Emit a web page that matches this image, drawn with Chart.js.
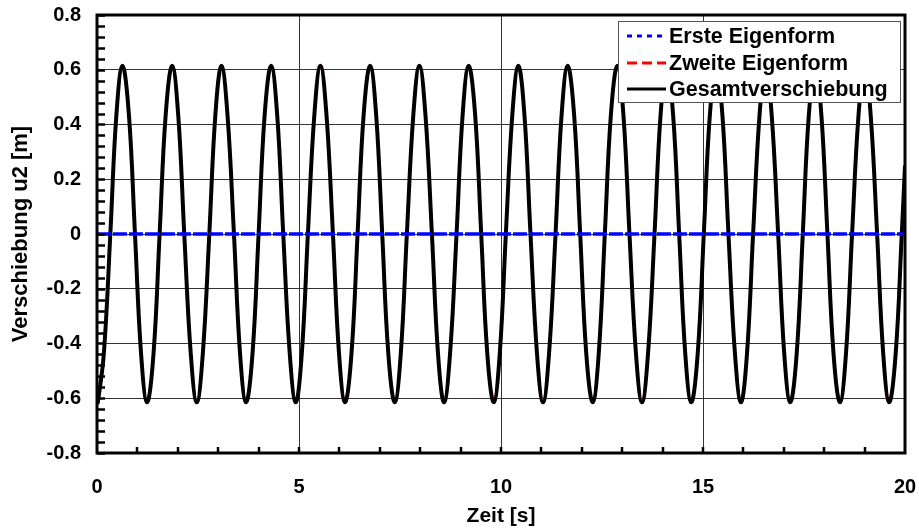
<!DOCTYPE html>
<html>
<head>
<meta charset="utf-8">
<script src="https://cdn.jsdelivr.net/npm/chart.js@4.4.1/dist/chart.umd.min.js"></script>
<style>
  body { margin: 0; background: #fff; }
</style>
</head>
<body>
<canvas id="myChart" width="919" height="532"></canvas>
<script>
// time samples [s] (eighth-period points, peaks, troughs, zero crossings)
const times = [
  0, 0.02, 0.17, 0.33, 0.48, 0.63, 0.79, 0.94, 1.09,
  1.24, 1.40, 1.55, 1.70, 1.86, 2.01, 2.16, 2.32,
  2.47, 2.62, 2.78, 2.93, 3.08, 3.23, 3.39, 3.54,
  3.69, 3.85, 4.00, 4.15, 4.31, 4.46, 4.61, 4.77,
  4.92, 5.07, 5.22, 5.38, 5.53, 5.68, 5.84, 5.99,
  6.14, 6.30, 6.45, 6.60, 6.76, 6.91, 7.06, 7.21,
  7.37, 7.52, 7.67, 7.83, 7.98, 8.13, 8.29, 8.44,
  8.59, 8.74, 8.90, 9.05, 9.20, 9.36, 9.51, 9.66,
  9.82, 9.97, 10.12, 10.28, 10.43, 10.58, 10.73, 10.89,
  11.04, 11.19, 11.35, 11.50, 11.65, 11.81, 11.96, 12.11,
  12.27, 12.42, 12.57, 12.72, 12.88, 13.03, 13.18, 13.34,
  13.49, 13.64, 13.80, 13.95, 14.10, 14.26, 14.41, 14.56,
  14.71, 14.87, 15.02, 15.17, 15.33, 15.48, 15.63, 15.79,
  15.94, 16.09, 16.24, 16.40, 16.55, 16.70, 16.86, 17.01,
  17.16, 17.32, 17.47, 17.62, 17.78, 17.93, 18.08, 18.23,
  18.39, 18.54, 18.69, 18.85, 19.00, 19.15, 19.31, 19.46,
  19.61, 19.77, 19.92, 20
];
// total displacement u2 [m] at those times
const gesamt = [
  -0.614, -0.615, -0.435, 0, 0.435, 0.615, 0.435, 0, -0.435,
  -0.615, -0.435, 0, 0.435, 0.615, 0.435, 0, -0.435,
  -0.615, -0.435, 0, 0.435, 0.615, 0.435, 0, -0.435,
  -0.615, -0.435, 0, 0.435, 0.615, 0.435, 0, -0.435,
  -0.615, -0.435, 0, 0.435, 0.615, 0.435, 0, -0.435,
  -0.615, -0.435, 0, 0.435, 0.615, 0.435, 0, -0.435,
  -0.615, -0.435, 0, 0.435, 0.615, 0.435, 0, -0.435,
  -0.615, -0.435, 0, 0.435, 0.615, 0.435, 0, -0.435,
  -0.615, -0.435, 0, 0.435, 0.615, 0.435, 0, -0.435,
  -0.615, -0.435, 0, 0.435, 0.615, 0.435, 0, -0.435,
  -0.615, -0.435, 0, 0.435, 0.615, 0.435, 0, -0.435,
  -0.615, -0.435, 0, 0.435, 0.615, 0.435, 0, -0.435,
  -0.615, -0.435, 0, 0.435, 0.615, 0.435, 0, -0.435,
  -0.615, -0.435, 0, 0.435, 0.615, 0.435, 0, -0.435,
  -0.615, -0.435, 0, 0.435, 0.615, 0.435, 0, -0.435,
  -0.615, -0.435, 0, 0.435, 0.615, 0.435, 0, -0.435,
  -0.615, -0.435, 0, 0.25
];
// second mode = total here (first mode stays at zero)
const zweite = gesamt.slice();
const ersteTimes = [0, 20];
const erste = [0, 0];

const labels = ['Erste Eigenform', 'Zweite Eigenform', 'Gesamtverschiebung'];
const xTicks = [0, 5, 10, 15, 20];
const yTicks = [-0.8, -0.6, -0.4, -0.2, 0, 0.2, 0.4, 0.6, 0.8];

const FONT = "'Liberation Sans', Arial, sans-serif";

const toXY = (xs, ys) => xs.map((x, i) => ({ x: x, y: ys[i] }));

// frame, inward minor ticks and the boxed legend
const framePlugin = {
  id: 'frame',
  afterDatasetsDraw(chart) {
    const ctx = chart.ctx;
    const a = chart.chartArea;
    const sx = chart.scales.x, sy = chart.scales.y;
    ctx.save();
    ctx.strokeStyle = '#000';
    ctx.lineWidth = 2.5;
    ctx.beginPath();
    for (let v = -0.8; v <= 0.8001; v += 0.04) {
      const py = Math.round(sy.getPixelForValue(v)) + 0.5;
      ctx.moveTo(a.left, py);
      ctx.lineTo(a.left + 8, py);
    }
    for (let t = 1; t < 20; t++) {
      const px = Math.round(sx.getPixelForValue(t));
      ctx.moveTo(px, a.bottom);
      ctx.lineTo(px, a.bottom - 6);
    }
    ctx.stroke();
    ctx.lineWidth = 3;
    ctx.strokeRect(a.left, a.top, a.right - a.left, a.bottom - a.top);

    // legend
    const bx = 618, by = 21, bw = 282, bh = 81;
    ctx.fillStyle = '#fff';
    ctx.fillRect(bx, by, bw, bh);
    ctx.lineWidth = 1;
    ctx.strokeStyle = '#555';
    ctx.strokeRect(bx + 0.5, by + 0.5, bw, bh);
    const rows = [36, 63, 89];
    const dashes = [[5, 5], [10, 5], []];
    ctx.font = 'bold 21.5px ' + FONT;
    ctx.textBaseline = 'middle';
    chart.data.datasets.forEach((ds, i) => {
      ctx.beginPath();
      ctx.setLineDash(dashes[i]);
      ctx.strokeStyle = ds.borderColor;
      ctx.lineWidth = 3;
      ctx.moveTo(627, rows[i]);
      ctx.lineTo(666, rows[i]);
      ctx.stroke();
      ctx.setLineDash([]);
      ctx.fillStyle = '#000';
      ctx.fillText(ds.label, 669, rows[i] + 1);
    });
    ctx.restore();
  }
};

new Chart(document.getElementById('myChart'), {
  type: 'line',
  data: {
    datasets: [
      {
        label: labels[0],
        data: toXY(ersteTimes, erste),
        borderColor: 'rgb(0,0,255)',
        borderWidth: 3.5,
        borderDash: [14, 2],
        pointRadius: 0,
        order: 0
      },
      {
        label: labels[1],
        data: toXY(times, zweite),
        borderColor: 'rgb(255,0,0)',
        borderWidth: 2.5,
        borderDash: [10, 5],
        pointRadius: 0,
        tension: 0.4,
        order: 2
      },
      {
        label: labels[2],
        data: toXY(times, gesamt),
        borderColor: '#000',
        borderWidth: 4,
        pointRadius: 0,
        tension: 0.4,
        order: 1
      }
    ]
  },
  options: {
    responsive: false,
    animation: false,
    layout: { padding: { top: 15, right: 14, left: 0, bottom: 0 } },
    plugins: {
      legend: { display: false },
      tooltip: { enabled: false }
    },
    scales: {
      x: {
        type: 'linear',
        min: 0,
        max: 20,
        afterBuildTicks: s => { s.ticks = xTicks.map(v => ({ value: v })); },
        afterFit: s => { s.height = 79; s.paddingLeft = 0; s.paddingRight = 0; },
        ticks: {
          color: '#000',
          padding: 22,
          maxRotation: 0,
          font: { family: FONT, size: 20, weight: 'bold' }
        },
        grid: { color: '#333', lineWidth: 1, drawTicks: false },
        border: { display: false },
        title: {
          display: true,
          text: 'Zeit [s]',
          color: '#000',
          padding: { top: 0, bottom: 3 },
          font: { family: FONT, size: 21, weight: 'bold' }
        }
      },
      y: {
        min: -0.8,
        max: 0.8,
        afterBuildTicks: s => { s.ticks = yTicks.map(v => ({ value: v })); },
        afterFit: s => { s.width = 97; s.paddingTop = 0; s.paddingBottom = 0; },
        ticks: {
          color: '#000',
          padding: 16,
          font: { family: FONT, size: 20, weight: 'bold' },
          callback: v => (Math.abs(v) < 1e-9 ? '0' : v.toFixed(1))
        },
        grid: { color: '#333', lineWidth: 1, drawTicks: false },
        border: { display: false },
        title: {
          display: true,
          text: 'Verschiebung u2 [m]',
          color: '#000',
          padding: { top: 8, bottom: 0 },
          font: { family: FONT, size: 22, weight: 'bold' }
        }
      }
    }
  },
  plugins: [framePlugin]
});
</script>
</body>
</html>
